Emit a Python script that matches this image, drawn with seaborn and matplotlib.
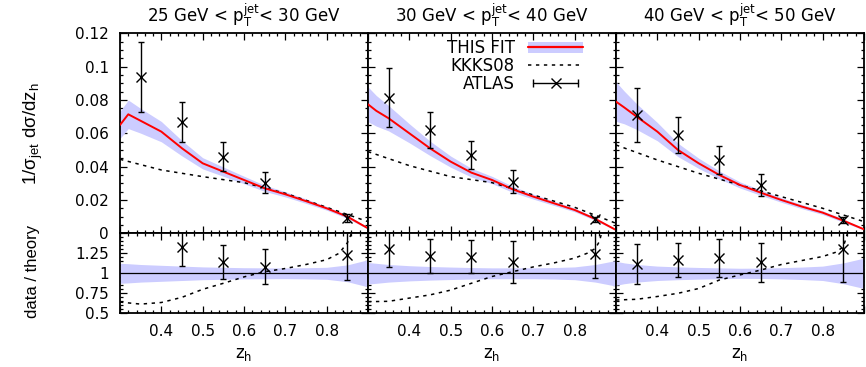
import numpy as np
import pandas as pd
import matplotlib
matplotlib.use("Agg")
import matplotlib.pyplot as plt
import seaborn as sns
from matplotlib.ticker import FixedLocator, FixedFormatter, MultipleLocator, NullFormatter
from matplotlib.lines import Line2D
from matplotlib.patches import Patch
from matplotlib.legend_handler import HandlerLine2D

# ---------------- data ----------------
titles = [r"25 GeV < p$_\mathregular{T}^\mathregular{jet}$< 30 GeV",
          r"30 GeV < p$_\mathregular{T}^\mathregular{jet}$< 40 GeV",
          r"40 GeV < p$_\mathregular{T}^\mathregular{jet}$< 50 GeV"]

# THIS FIT curves
z_fit = [0.30, 0.32, 0.35, 0.40, 0.45, 0.50, 0.55, 0.60, 0.65, 0.70, 0.75, 0.80, 0.85, 0.90]
fit_25_30 = [0.065, 0.0714, 0.0675, 0.061, 0.051, 0.042, 0.037, 0.032, 0.027, 0.0234, 0.0193, 0.015, 0.0100, 0.003]
fit_30_40 = [0.0774, 0.0735, 0.069, 0.060, 0.051, 0.043, 0.0364, 0.032, 0.0264, 0.022, 0.018, 0.014, 0.0086, 0.002]
fit_40_50 = [0.079, 0.0755, 0.070, 0.061, 0.050, 0.042, 0.035, 0.029, 0.0244, 0.020, 0.016, 0.0124, 0.0076, 0.0024]
# relative uncertainty of THIS FIT (half width of band)
unc_25_30 = [0.125, 0.12, 0.11, 0.10, 0.09, 0.08, 0.075, 0.07, 0.068, 0.067, 0.07, 0.075, 0.105, 0.17]
unc_30_40 = [0.135, 0.125, 0.11, 0.095, 0.085, 0.078, 0.072, 0.068, 0.068, 0.068, 0.072, 0.08, 0.11, 0.16]
unc_40_50 = [0.15, 0.13, 0.11, 0.09, 0.08, 0.073, 0.068, 0.063, 0.065, 0.07, 0.078, 0.09, 0.13, 0.19]

# KKKS08 curves
z_kk = [0.3, 0.4, 0.5, 0.6, 0.7, 0.8, 0.9]
kk_25_30 = [0.0444, 0.038, 0.034, 0.0304, 0.024, 0.0156, 0.007]
kk_30_40 = [0.049, 0.0406, 0.034, 0.0304, 0.023, 0.0156, 0.006]
kk_40_50 = [0.053, 0.044, 0.036, 0.029, 0.022, 0.015, 0.007]

# KKKS08 / THIS FIT
z_kkr = [0.30, 0.35, 0.40, 0.45, 0.50, 0.55, 0.60, 0.65, 0.70, 0.75, 0.80, 0.83, 0.85, 0.86, 0.87, 0.90]
kkr_25_30 = [0.64, 0.615, 0.635, 0.70, 0.80, 0.875, 0.955, 1.02, 1.06, 1.11, 1.17, 1.25, 1.38, 1.50, 1.65, 1.9]
kkr_30_40 = [0.645, 0.65, 0.69, 0.73, 0.79, 0.875, 0.96, 1.02, 1.08, 1.13, 1.19, 1.25, 1.31, 1.40, 1.60, 2.0]
kkr_40_50 = [0.666, 0.675, 0.71, 0.75, 0.81, 0.916, 0.98, 1.04, 1.11, 1.16, 1.21, 1.26, 1.33, 1.50, 1.70, 2.1]

# ATLAS data
z_atlas = [0.35, 0.45, 0.55, 0.65, 0.85]
atlas_25_30 = [0.094, 0.067, 0.046, 0.0304, 0.009]
atlas_err_25_30 = [0.021, 0.012, 0.0085, 0.0063, 0.0023]
atlas_30_40 = [0.0814, 0.062, 0.047, 0.031, 0.0084]
atlas_err_30_40 = [0.0175, 0.011, 0.0082, 0.007, 0.0015]
atlas_40_50 = [0.071, 0.059, 0.044, 0.029, 0.008]
atlas_err_40_50 = [0.016, 0.011, 0.0086, 0.0065, 0.0018]

# data / theory
ratio_25_30 = [np.nan, 1.325, 1.145, 1.083, 1.23]
ratio_err_25_30 = [0.35, 0.235, 0.21, 0.22, 0.31]
ratio_30_40 = [1.31, 1.216, 1.21, 1.14, 1.24]
ratio_err_30_40 = [0.235, 0.215, 0.21, 0.26, 0.30]
ratio_40_50 = [1.12, 1.17, 1.19, 1.14, 1.30]
ratio_err_40_50 = [0.25, 0.21, 0.233, 0.245, 0.41]

x_ticks = [0.3, 0.4, 0.5, 0.6, 0.7, 0.8, 0.9]
x_tick_labels = ["", "0.4", "0.5", "0.6", "0.7", "0.8", ""]
y_ticks_top = [0, 0.02, 0.04, 0.06, 0.08, 0.10, 0.12]
y_tick_labels_top = ["0", "0.02", "0.04", "0.06", "0.08", "0.1", "0.12"]
y_ticks_bot = [0.5, 0.75, 1.0, 1.25, 1.5]
y_tick_labels_bot = ["0.5", "0.75", "1", "1.25", ""]

panels = [
    (fit_25_30, unc_25_30, kk_25_30, kkr_25_30, atlas_25_30, atlas_err_25_30, ratio_25_30, ratio_err_25_30),
    (fit_30_40, unc_30_40, kk_30_40, kkr_30_40, atlas_30_40, atlas_err_30_40, ratio_30_40, ratio_err_30_40),
    (fit_40_50, unc_40_50, kk_40_50, kkr_40_50, atlas_40_50, atlas_err_40_50, ratio_40_50, ratio_err_40_50),
]

# ---------------- style ----------------
sns.set_theme(style="ticks")
plt.rcParams.update({
    "font.family": ["DejaVu Sans"],
    "text.color": "black",
    "axes.labelcolor": "black",
    "axes.linewidth": 1.3,
    "axes.edgecolor": "black",
    "xtick.direction": "in", "ytick.direction": "in",
    "xtick.top": True, "ytick.right": True,
    "xtick.major.size": 5, "ytick.major.size": 5,
    "xtick.minor.size": 2.5, "ytick.minor.size": 2.5,
    "xtick.major.width": 0.9, "ytick.major.width": 0.9,
    "xtick.minor.width": 0.9, "ytick.minor.width": 0.9,
    "xtick.major.pad": 8, "ytick.major.pad": 8,
    "xtick.labelsize": 11, "ytick.labelsize": 11,
    "xtick.color": "black", "ytick.color": "black",
    "xtick.labelcolor": "black", "ytick.labelcolor": "black",
})

band_color = "#ccccff"
dash = (0, (2.2, 3.0))

W, H = 866, 367
fig = plt.figure(figsize=(W / 100, H / 100), dpi=100)
lefts = [120, 368, 616]
pw = 248

for i, (fit, unc, kk, kkr, at, ate, rt, rte) in enumerate(panels):
    fit = np.array(fit); unc = np.array(unc)
    ax = fig.add_axes([lefts[i] / W, (H - 233.3) / H, pw / W, 200 / H])
    axr = fig.add_axes([lefts[i] / W, (H - 313.3) / H, pw / W, 80 / H])

    # --- top panel ---
    ax.fill_between(z_fit, fit * (1 - unc), fit * (1 + unc), color=band_color, lw=0, zorder=1)
    df_kk = pd.DataFrame({"z": z_kk, "v": kk})
    sns.lineplot(data=df_kk, x="z", y="v", ax=ax, color="black", lw=1.1, linestyle=dash, legend=False, zorder=2)
    df_fit = pd.DataFrame({"z": z_fit, "v": fit})
    sns.lineplot(data=df_fit, x="z", y="v", ax=ax, color="red", lw=1.4, legend=False, zorder=3)
    ax.errorbar(z_atlas, at, yerr=ate, fmt="x", color="black", ms=7, mew=1.0,
                elinewidth=1.0, capsize=2.2, capthick=1.0, zorder=4)
    ax.set_xlim(0.3, 0.9)
    ax.set_ylim(0, 0.12)
    ax.xaxis.set_major_locator(FixedLocator(x_ticks))
    ax.xaxis.set_minor_locator(MultipleLocator(0.02))
    ax.xaxis.set_major_formatter(NullFormatter())
    ax.yaxis.set_major_locator(FixedLocator(y_ticks_top))
    ax.yaxis.set_minor_locator(MultipleLocator(0.005))
    if i == 0:
        ax.yaxis.set_major_formatter(FixedFormatter(y_tick_labels_top))
    else:
        ax.yaxis.set_major_formatter(NullFormatter())
    ax.set_xlabel(""); ax.set_ylabel("")

    # --- ratio panel ---
    axr.fill_between(z_fit, 1 - unc, 1 + unc, color=band_color, lw=0, zorder=1)
    axr.axhline(1.0, color="black", lw=0.9, zorder=2)
    df_kkr = pd.DataFrame({"z": z_kkr, "v": kkr})
    sns.lineplot(data=df_kkr, x="z", y="v", ax=axr, color="black", lw=1.1, linestyle=dash, legend=False, zorder=3)
    axr.errorbar(z_atlas, rt, yerr=rte, fmt="x", color="black", ms=7, mew=1.0,
                 elinewidth=1.0, capsize=2.2, capthick=1.0, zorder=4)
    axr.set_xlim(0.3, 0.9)
    axr.set_ylim(0.5, 1.5)
    axr.xaxis.set_major_locator(FixedLocator(x_ticks))
    axr.xaxis.set_major_formatter(FixedFormatter(x_tick_labels))
    axr.xaxis.set_minor_locator(MultipleLocator(0.02))
    axr.yaxis.set_major_locator(FixedLocator(y_ticks_bot))
    axr.yaxis.set_minor_locator(MultipleLocator(0.05))
    if i == 0:
        axr.yaxis.set_major_formatter(FixedFormatter(y_tick_labels_bot))
    else:
        axr.yaxis.set_major_formatter(NullFormatter())
    axr.set_xlabel(""); axr.set_ylabel("")

    for a in (ax, axr):
        a.tick_params(which="both", direction="in", top=True, right=True,
                      colors="black", labelcolor="black")

    cx = (lefts[i] + pw / 2) / W
    fig.text(cx, 1 - 22.7 / H, titles[i], ha="center", va="baseline", fontsize=12, color="black")
    fig.text(cx, 1 - 358.3 / H, r"z$_\mathregular{h}$", ha="center", va="baseline", fontsize=12, color="black")

    if i == 1:
        band_h = Patch(facecolor=band_color, edgecolor="none")
        fit_h = Line2D([], [], color="red", lw=1.6)
        kk_h = Line2D([], [], color="black", lw=1.1, linestyle=dash)
        err_h = Line2D([], [], color="black", lw=1.0, marker="|", markersize=6, markeredgewidth=1.0)
        x_h = Line2D([], [], color="black", marker="x", linestyle="none", markersize=7, markeredgewidth=1.0)
        leg = ax.legend([(band_h, fit_h), kk_h, (err_h, x_h)], ["THIS FIT", "KKKS08", "ATLAS"],
                        handler_map={err_h: HandlerLine2D(numpoints=2), x_h: HandlerLine2D(numpoints=1)},
                        markerfirst=False, frameon=False, loc="upper right",
                        bbox_to_anchor=(0.867, 0.97), borderpad=0, borderaxespad=0,
                        handlelength=3.3, handletextpad=0.8, labelspacing=0.0, fontsize=12)
        for t in leg.get_texts():
            t.set_color("black")

fig.text(33 / W, 1 - 134 / H, r"1/σ$_\mathregular{jet}$ dσ/dz$_\mathregular{h}$", rotation=90,
         ha="center", va="center", fontsize=13.5, color="black", family=["Liberation Sans", "DejaVu Sans"])
fig.text(33 / W, 1 - 271.5 / H, "data / theory", rotation=90,
         ha="center", va="center", fontsize=12, color="black", family=["Liberation Sans", "DejaVu Sans"])

fig.savefig("out.png", dpi=100)
